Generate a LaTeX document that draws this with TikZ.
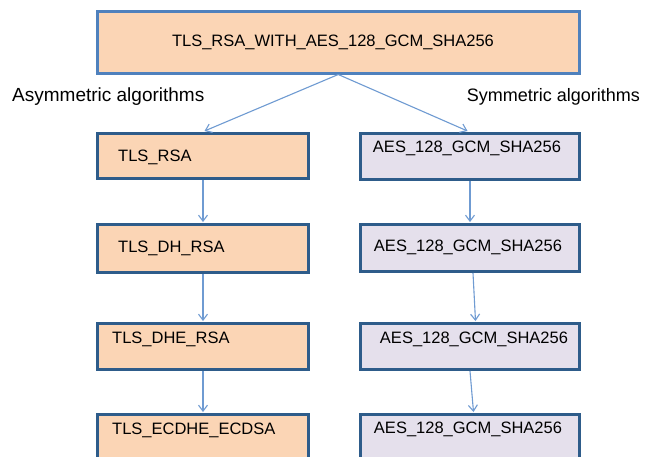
\documentclass[tikz,border=0pt]{standalone}
\usepackage{fontspec}
\setmainfont{Liberation Sans}
\usetikzlibrary{arrows.meta}
\definecolor{orangefill}{HTML}{FBD5B5}
\definecolor{lilacfill}{HTML}{E5E0EC}
\definecolor{darkedge}{HTML}{2E5C8A}
\definecolor{topedge}{HTML}{4F81BD}
\definecolor{arrowblue}{HTML}{6F9BD2}
\tikzset{
  boxbase/.style={rectangle, inner sep=0pt, anchor=north west},
  topbox/.style={boxbase, fill=orangefill, draw=topedge, line width=2.5pt},
  asymbox/.style={boxbase, fill=orangefill, draw=darkedge, line width=3pt, minimum width=211pt, minimum height=45pt},
  symbox/.style={boxbase, fill=lilacfill, draw=darkedge, line width=3pt, minimum width=219pt, minimum height=46pt},
  boxtext/.style={font=\fontsize{16.5}{19}\selectfont, inner sep=0pt},
  headtext/.style={font=\fontsize{18}{21}\selectfont, inner sep=0pt},
  conn/.style={draw=arrowblue, line width=1.1pt, -{Straight Barb[length=6pt,width=9pt]}}
}
\begin{document}
\begin{tikzpicture}[x=1pt,y=-1pt]
\clip (0,0) rectangle (646,456);
\fill[white] (0,0) rectangle (646,456);
% top box
\node[topbox, minimum width=482pt, minimum height=62pt] (top) at (96,10) {};
\node[boxtext, anchor=base] (toptext) at (333,46.5) {TLS\_RSA\_WITH\_AES\_128\_GCM\_SHA256};
% headings
\node[headtext, font=\fontsize{19}{22}\selectfont, anchor=base west] (asym) at (12,101.5) {Asymmetric algorithms};
\node[headtext, anchor=base east] (sym) at (640,101.5) {Symmetric algorithms};
% left column
\node[asymbox] (l1) at (96,132) {};
\node[asymbox, minimum height=48pt] (l2) at (96,223) {};
\node[asymbox, minimum height=46pt] (l3) at (96,322) {};
\node[asymbox, minimum height=60pt] (l4) at (96,413) {};
\node[boxtext, anchor=base west] (l1t) at (118,161) {TLS\_RSA};
\node[boxtext, anchor=base west] (l2t) at (118,252) {TLS\_DH\_RSA};
\node[boxtext, anchor=base west] (l3t) at (112,343) {TLS\_DHE\_RSA};
\node[boxtext, anchor=base west] (l4t) at (112,434) {TLS\_ECDHE\_ECDSA};
% right column
\node[symbox] (r1) at (359,132) {};
\node[symbox, minimum height=47pt] (r2) at (359,223) {};
\node[symbox] (r3) at (359,322) {};
\node[symbox, minimum height=60pt] (r4) at (359,413) {};
\node[boxtext, anchor=base] (r1t) at (467,152) {AES\_128\_GCM\_SHA256};
\node[boxtext, anchor=base] (r2t) at (468,251) {AES\_128\_GCM\_SHA256};
\node[boxtext, anchor=base] (r3t) at (474,343) {AES\_128\_GCM\_SHA256};
\node[boxtext, anchor=base] (r4t) at (468,433) {AES\_128\_GCM\_SHA256};
% connectors
\draw[conn] (top.south) -- ([xshift=1.5pt,yshift=1pt]l1.north);
\draw[conn] (top.south) -- ([xshift=-2.5pt,yshift=1pt]r1.north);
\draw[conn] (l1.south) -- ([yshift=1pt]l2.north);
\draw[conn] (l2.south) -- ([yshift=1pt]l3.north);
\draw[conn] (l3.south) -- ([yshift=1pt]l4.north);
\draw[conn] (r1.south) -- ([yshift=1pt]r2.north);
\draw[conn] ([xshift=3pt]r2.south) -- ([xshift=5.5pt,yshift=1pt]r3.north);
\draw[conn] (r3.south) -- ([xshift=3.5pt,yshift=1pt]r4.north);
\end{tikzpicture}
\end{document}
